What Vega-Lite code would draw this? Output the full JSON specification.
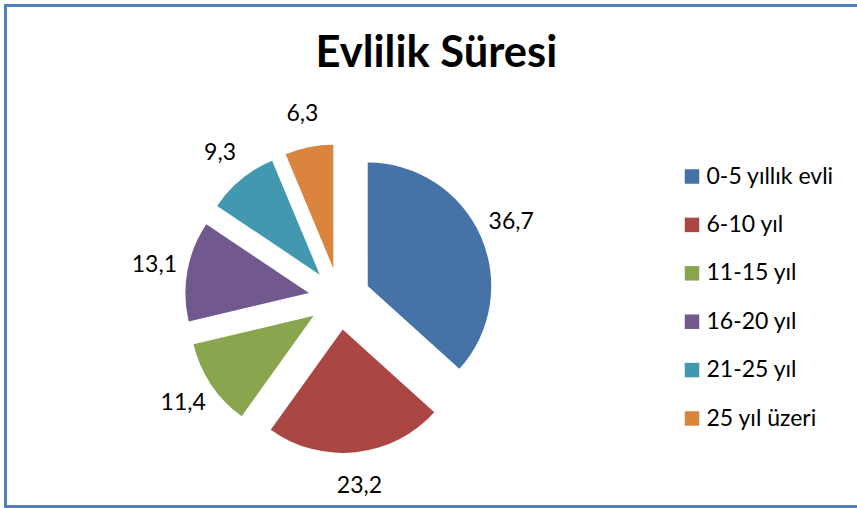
{
  "$schema": "https://vega.github.io/schema/vega-lite/v6.json",
  "width": 860,
  "height": 501,
  "autosize": {"type": "none"},
  "padding": {"left": 5.5, "top": 5.5, "right": 0, "bottom": 1.5},
  "background": "white",
  "config": {
    "locale": {"number": {"decimal": ",", "thousands": ".", "grouping": [3], "currency": ["", " TL"]}},
    "view": {"stroke": "#4F81BD", "strokeWidth": 3},
    "font": "Lato"
  },
  "title": {
    "text": "Evlilik Süresi",
    "font": "Lato",
    "fontSize": 43.5,
    "fontWeight": "bold",
    "color": "#000000",
    "anchor": "start",
    "frame": "group",
    "dx": 310,
    "offset": -105,
    "baseline": "alphabetic"
  },
  "data": {
    "values": [
      {"kategori": "0-5 yıllık evli", "deger": 36.7},
      {"kategori": "6-10 yıl", "deger": 23.2},
      {"kategori": "11-15 yıl", "deger": 11.4},
      {"kategori": "16-20 yıl", "deger": 13.1},
      {"kategori": "21-25 yıl", "deger": 9.3},
      {"kategori": "25 yıl üzeri", "deger": 6.3}
    ]
  },
  "transform": [
    {"window": [{"op": "sum", "field": "deger", "as": "bitis"}], "frame": [null, 0]},
    {"calculate": "datum.bitis - datum.deger", "as": "baslangic"},
    {"calculate": "datum.bitis - datum.deger / 2", "as": "orta"},
    {"calculate": "sin(datum.orta * PI / 50)", "as": "ox"},
    {"calculate": "cos(datum.orta * PI / 50)", "as": "oy"}
  ],
  "encoding": {
    "x": {"field": "ox", "type": "quantitative", "scale": {"domain": [-10.771, 16.971], "nice": false, "zero": false}, "axis": null},
    "y": {"field": "oy", "type": "quantitative", "scale": {"domain": [-6.706, 9.455], "nice": false, "zero": false}, "axis": null}
  },
  "layer": [
    {
      "mark": {"type": "arc", "outerRadius": 123.5},
      "encoding": {
        "theta": {"field": "baslangic", "type": "quantitative", "scale": {"domain": [0, 100], "range": [0, 6.283185]}, "stack": null},
        "theta2": {"field": "bitis"},
        "color": {
          "field": "kategori",
          "type": "nominal",
          "scale": {
            "domain": ["0-5 yıllık evli", "6-10 yıl", "11-15 yıl", "16-20 yıl", "21-25 yıl", "25 yıl üzeri"],
            "range": ["#4572A7", "#AA4643", "#89A54E", "#71588F", "#4198AF", "#DB843D"]
          },
          "legend": {
            "title": null,
            "orient": "none",
            "legendX": 675,
            "legendY": 159.5,
            "symbolType": "square",
            "symbolSize": 210,
            "symbolStrokeWidth": 0,
            "labelFontSize": 23,
            "labelFont": "Lato",
            "labelColor": "#000000",
            "rowPadding": 24.4,
            "labelOffset": 3,
            "padding": 0
          }
        }
      }
    },
    {
      "mark": {"type": "text", "radius": 157, "fontSize": 23, "font": "Lato", "color": "#000000", "align": "center", "baseline": "middle"},
      "encoding": {
        "theta": {"field": "orta", "type": "quantitative", "scale": {"domain": [0, 100], "range": [0, 6.283185]}, "stack": null},
        "text": {"field": "deger", "type": "quantitative", "format": ".1f"}
      }
    }
  ]
}
